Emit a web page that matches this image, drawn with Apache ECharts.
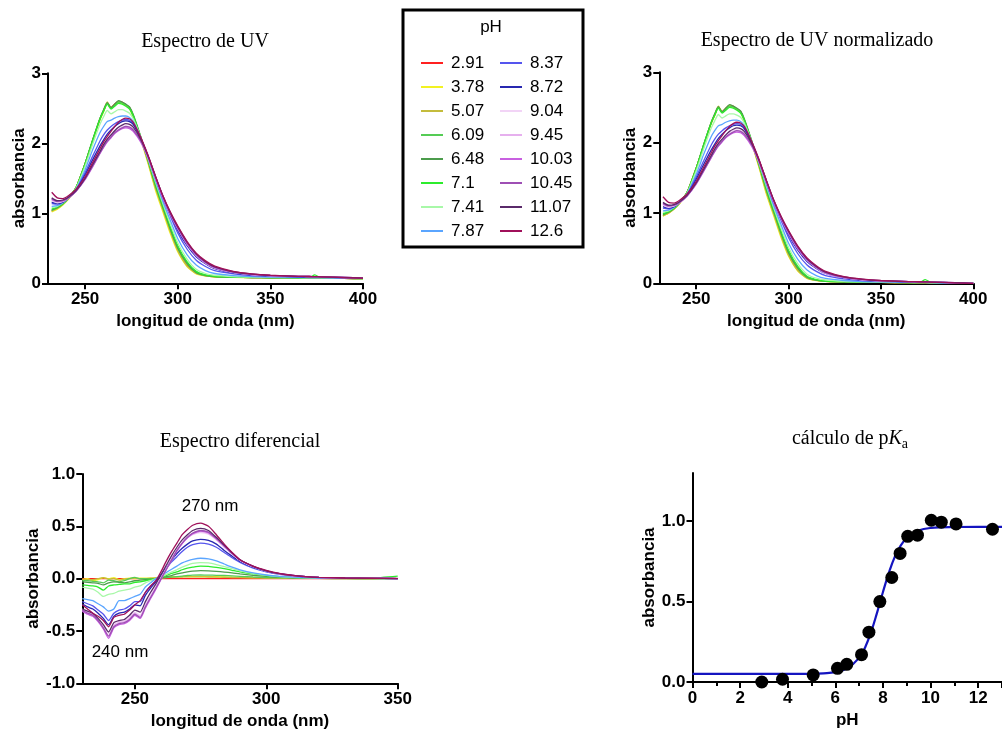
<!DOCTYPE html>
<html>
<head>
<meta charset="utf-8">
<script src="https://cdn.jsdelivr.net/npm/echarts@6/dist/echarts.min.js"></script>
<style>
html,body{margin:0;padding:0;background:#fff}
#c{width:1002px;height:738px}
</style>
</head>
<body>
<div id="c"></div>
<script>
// Wavelength grids (nm)
const wlUV = [232, 235, 238, 241, 245, 250, 254, 258, 260, 262, 264, 266, 268, 270, 272, 274, 276, 280, 284, 288, 292, 296, 300, 305, 310, 315, 320, 330, 340, 350, 365, 371, 374, 377, 390, 400];
const wlDiff = [230, 232, 234, 236, 238, 240, 242, 244, 246, 248, 250, 252, 254, 256, 258, 260, 262, 264, 266, 268, 270, 272, 275, 278, 281, 284, 287, 290, 295, 300, 305, 310, 315, 320, 330, 340, 350];

// pH of each measured solution and its line colour
const phNames = ['2.91', '3.78', '5.07', '6.09', '6.48', '7.1', '7.41', '7.87', '8.37', '8.72', '9.04', '9.45', '10.03', '10.45', '11.07', '12.6'];
const phColors = ['#ff2020', '#f2f222', '#c4bc3c', '#55cc55', '#4c9c4c', '#2cec2c', '#a8f8a8', '#5aa5ff', '#5555ee', '#2828b0', '#f2d4f6', '#e6b0ee', '#c860e0', '#9e4fb4', '#5a2a6a', '#a0105a'];

// UV spectra (absorbance on wlUV)
const uv_291 = [1.03, 1.07, 1.13, 1.21, 1.36, 1.71, 2.03, 2.34, 2.46, 2.57, 2.51, 2.56, 2.60, 2.59, 2.55, 2.51, 2.39, 2.08, 1.74, 1.37, 1.06, 0.75, 0.48, 0.26, 0.15, 0.11, 0.094, 0.086, 0.081, 0.079, 0.076, 0.075, 0.075, 0.074, 0.07, 0.066];
const uv_378 = [1.02, 1.06, 1.12, 1.20, 1.35, 1.70, 2.02, 2.33, 2.45, 2.58, 2.50, 2.55, 2.59, 2.57, 2.54, 2.50, 2.37, 2.06, 1.71, 1.33, 1.02, 0.71, 0.45, 0.24, 0.135, 0.105, 0.092, 0.085, 0.080, 0.078, 0.075, 0.074, 0.074, 0.073, 0.069, 0.065];
const uv_507 = [1.03, 1.07, 1.13, 1.21, 1.36, 1.71, 2.03, 2.35, 2.47, 2.59, 2.51, 2.55, 2.59, 2.58, 2.55, 2.51, 2.38, 2.07, 1.73, 1.36, 1.05, 0.74, 0.47, 0.25, 0.14, 0.107, 0.093, 0.086, 0.081, 0.079, 0.076, 0.075, 0.075, 0.074, 0.07, 0.066];
const uv_609 = [1.04, 1.08, 1.13, 1.21, 1.36, 1.71, 2.04, 2.35, 2.47, 2.57, 2.50, 2.55, 2.59, 2.58, 2.55, 2.51, 2.40, 2.09, 1.75, 1.39, 1.08, 0.77, 0.50, 0.28, 0.15, 0.11, 0.095, 0.087, 0.082, 0.079, 0.076, 0.075, 0.078, 0.075, 0.07, 0.066];
const uv_648 = [1.05, 1.08, 1.14, 1.22, 1.36, 1.71, 2.04, 2.35, 2.48, 2.58, 2.51, 2.56, 2.61, 2.59, 2.56, 2.52, 2.41, 2.10, 1.76, 1.40, 1.09, 0.78, 0.51, 0.29, 0.155, 0.112, 0.097, 0.088, 0.083, 0.080, 0.077, 0.076, 0.076, 0.075, 0.071, 0.066];
const uv_710 = [1.06, 1.09, 1.14, 1.22, 1.36, 1.70, 2.03, 2.34, 2.46, 2.56, 2.49, 2.53, 2.57, 2.56, 2.53, 2.49, 2.39, 2.09, 1.77, 1.42, 1.11, 0.81, 0.54, 0.31, 0.17, 0.12, 0.10, 0.09, 0.085, 0.082, 0.078, 0.08, 0.12, 0.08, 0.071, 0.067];
const uv_741 = [1.08, 1.10, 1.15, 1.22, 1.35, 1.67, 1.98, 2.27, 2.38, 2.47, 2.42, 2.45, 2.48, 2.48, 2.46, 2.43, 2.35, 2.09, 1.78, 1.45, 1.14, 0.85, 0.58, 0.35, 0.20, 0.14, 0.115, 0.097, 0.088, 0.084, 0.08, 0.079, 0.079, 0.078, 0.073, 0.068];
const uv_787 = [1.10, 1.11, 1.15, 1.22, 1.34, 1.62, 1.90, 2.15, 2.24, 2.31, 2.33, 2.36, 2.38, 2.39, 2.39, 2.37, 2.31, 2.08, 1.79, 1.47, 1.17, 0.90, 0.64, 0.41, 0.26, 0.18, 0.14, 0.11, 0.095, 0.09, 0.085, 0.083, 0.082, 0.081, 0.075, 0.07];
const uv_837 = [1.14, 1.13, 1.16, 1.22, 1.33, 1.58, 1.81, 2.03, 2.12, 2.19, 2.24, 2.28, 2.31, 2.33, 2.34, 2.33, 2.28, 2.08, 1.81, 1.50, 1.21, 0.96, 0.72, 0.49, 0.33, 0.24, 0.18, 0.135, 0.11, 0.10, 0.09, 0.088, 0.087, 0.085, 0.078, 0.072];
const uv_872 = [1.16, 1.14, 1.16, 1.22, 1.32, 1.55, 1.76, 1.96, 2.05, 2.13, 2.19, 2.24, 2.28, 2.31, 2.32, 2.31, 2.27, 2.07, 1.82, 1.52, 1.23, 0.99, 0.76, 0.54, 0.38, 0.28, 0.21, 0.15, 0.12, 0.105, 0.095, 0.092, 0.09, 0.089, 0.08, 0.073];
const uv_904 = [1.18, 1.15, 1.17, 1.22, 1.31, 1.51, 1.70, 1.89, 1.98, 2.06, 2.12, 2.17, 2.21, 2.24, 2.25, 2.24, 2.20, 2.04, 1.81, 1.52, 1.24, 1.00, 0.79, 0.57, 0.40, 0.29, 0.22, 0.155, 0.125, 0.11, 0.10, 0.097, 0.095, 0.093, 0.083, 0.075];
const uv_945 = [1.19, 1.16, 1.17, 1.22, 1.31, 1.49, 1.68, 1.87, 1.96, 2.04, 2.10, 2.15, 2.19, 2.22, 2.23, 2.22, 2.18, 2.03, 1.80, 1.51, 1.23, 1.00, 0.79, 0.57, 0.40, 0.29, 0.22, 0.155, 0.125, 0.11, 0.10, 0.097, 0.095, 0.093, 0.083, 0.075];
const uv_1003 = [1.20, 1.17, 1.18, 1.22, 1.31, 1.48, 1.66, 1.85, 1.94, 2.02, 2.08, 2.14, 2.18, 2.21, 2.22, 2.21, 2.17, 2.02, 1.79, 1.50, 1.22, 0.98, 0.78, 0.56, 0.40, 0.29, 0.22, 0.155, 0.125, 0.11, 0.10, 0.097, 0.095, 0.093, 0.083, 0.075];
const uv_1045 = [1.21, 1.17, 1.18, 1.22, 1.31, 1.49, 1.67, 1.86, 1.95, 2.03, 2.09, 2.15, 2.19, 2.22, 2.24, 2.23, 2.19, 2.04, 1.81, 1.52, 1.24, 1.00, 0.80, 0.58, 0.41, 0.30, 0.23, 0.16, 0.13, 0.112, 0.10, 0.097, 0.095, 0.093, 0.083, 0.075];
const uv_1107 = [1.22, 1.18, 1.19, 1.23, 1.32, 1.50, 1.69, 1.88, 1.98, 2.06, 2.12, 2.18, 2.23, 2.26, 2.28, 2.27, 2.23, 2.06, 1.82, 1.53, 1.25, 1.01, 0.81, 0.59, 0.42, 0.31, 0.235, 0.165, 0.13, 0.113, 0.10, 0.097, 0.095, 0.093, 0.083, 0.075];
const uv_1260 = [1.30, 1.22, 1.21, 1.25, 1.34, 1.52, 1.72, 1.92, 2.02, 2.10, 2.17, 2.24, 2.30, 2.34, 2.36, 2.35, 2.30, 2.09, 1.83, 1.53, 1.25, 1.02, 0.82, 0.60, 0.43, 0.32, 0.245, 0.17, 0.135, 0.115, 0.10, 0.097, 0.095, 0.093, 0.082, 0.075];

// Baseline-corrected spectra (absorbance on wlUV)
const norm_291 = [0.96, 1.00, 1.06, 1.14, 1.29, 1.64, 1.96, 2.27, 2.39, 2.50, 2.44, 2.49, 2.53, 2.52, 2.48, 2.44, 2.32, 2.01, 1.67, 1.30, 0.99, 0.68, 0.41, 0.19, 0.084, 0.044, 0.028, 0.02, 0.015, 0.013, 0.01, 0.009, 0.009, 0.008, 0.004, 0];
const norm_378 = [0.955, 0.995, 1.055, 1.135, 1.285, 1.635, 1.955, 2.265, 2.385, 2.515, 2.435, 2.485, 2.525, 2.505, 2.475, 2.435, 2.305, 1.995, 1.645, 1.265, 0.955, 0.645, 0.385, 0.175, 0.07, 0.04, 0.027, 0.02, 0.015, 0.013, 0.01, 0.009, 0.009, 0.008, 0.004, 0];
const norm_507 = [0.96, 1.00, 1.06, 1.14, 1.29, 1.64, 1.96, 2.28, 2.40, 2.52, 2.44, 2.48, 2.52, 2.51, 2.48, 2.44, 2.31, 2.00, 1.66, 1.29, 0.98, 0.67, 0.40, 0.18, 0.074, 0.041, 0.027, 0.02, 0.015, 0.013, 0.01, 0.009, 0.009, 0.008, 0.004, 0];
const norm_609 = [0.97, 1.01, 1.06, 1.14, 1.29, 1.64, 1.97, 2.28, 2.40, 2.50, 2.43, 2.48, 2.52, 2.51, 2.48, 2.44, 2.33, 2.02, 1.68, 1.32, 1.01, 0.70, 0.43, 0.21, 0.084, 0.044, 0.029, 0.021, 0.016, 0.013, 0.01, 0.009, 0.012, 0.009, 0.004, 0];
const norm_648 = [0.98, 1.01, 1.07, 1.15, 1.29, 1.64, 1.97, 2.28, 2.41, 2.51, 2.44, 2.49, 2.54, 2.52, 2.49, 2.45, 2.34, 2.03, 1.69, 1.33, 1.02, 0.71, 0.44, 0.22, 0.089, 0.046, 0.031, 0.022, 0.017, 0.014, 0.011, 0.01, 0.01, 0.009, 0.005, 0];
const norm_710 = [0.99, 1.02, 1.07, 1.15, 1.29, 1.63, 1.96, 2.27, 2.39, 2.49, 2.42, 2.46, 2.50, 2.49, 2.46, 2.42, 2.32, 2.02, 1.70, 1.35, 1.04, 0.74, 0.47, 0.24, 0.10, 0.053, 0.033, 0.023, 0.018, 0.015, 0.011, 0.013, 0.053, 0.013, 0.004, 0];
const norm_741 = [1.01, 1.03, 1.08, 1.15, 1.28, 1.60, 1.91, 2.20, 2.31, 2.40, 2.35, 2.38, 2.41, 2.41, 2.39, 2.36, 2.28, 2.02, 1.71, 1.38, 1.07, 0.78, 0.51, 0.28, 0.13, 0.072, 0.047, 0.029, 0.02, 0.016, 0.012, 0.011, 0.011, 0.01, 0.005, 0];
const norm_787 = [1.03, 1.04, 1.08, 1.15, 1.27, 1.55, 1.83, 2.08, 2.17, 2.24, 2.26, 2.29, 2.31, 2.32, 2.32, 2.30, 2.24, 2.01, 1.72, 1.40, 1.10, 0.83, 0.57, 0.34, 0.19, 0.11, 0.07, 0.04, 0.025, 0.02, 0.015, 0.013, 0.012, 0.011, 0.005, 0];
const norm_837 = [1.07, 1.06, 1.09, 1.15, 1.26, 1.51, 1.74, 1.96, 2.05, 2.12, 2.17, 2.21, 2.24, 2.26, 2.27, 2.26, 2.21, 2.01, 1.74, 1.43, 1.14, 0.89, 0.65, 0.42, 0.26, 0.17, 0.11, 0.063, 0.038, 0.028, 0.018, 0.016, 0.015, 0.013, 0.006, 0];
const norm_872 = [1.09, 1.07, 1.09, 1.15, 1.25, 1.48, 1.69, 1.89, 1.98, 2.06, 2.12, 2.17, 2.21, 2.24, 2.25, 2.24, 2.20, 2.00, 1.75, 1.45, 1.16, 0.92, 0.69, 0.47, 0.31, 0.21, 0.14, 0.077, 0.047, 0.032, 0.022, 0.019, 0.017, 0.016, 0.007, 0];
const norm_904 = [1.11, 1.08, 1.10, 1.15, 1.24, 1.44, 1.63, 1.82, 1.91, 1.99, 2.05, 2.10, 2.14, 2.17, 2.18, 2.17, 2.13, 1.97, 1.74, 1.45, 1.17, 0.93, 0.72, 0.50, 0.33, 0.22, 0.145, 0.08, 0.05, 0.035, 0.025, 0.022, 0.02, 0.018, 0.008, 0];
const norm_945 = [1.12, 1.09, 1.10, 1.15, 1.24, 1.42, 1.61, 1.80, 1.89, 1.97, 2.03, 2.08, 2.12, 2.15, 2.16, 2.15, 2.11, 1.96, 1.73, 1.44, 1.16, 0.93, 0.72, 0.50, 0.33, 0.22, 0.145, 0.08, 0.05, 0.035, 0.025, 0.022, 0.02, 0.018, 0.008, 0];
const norm_1003 = [1.13, 1.10, 1.11, 1.15, 1.24, 1.41, 1.59, 1.78, 1.87, 1.95, 2.01, 2.07, 2.11, 2.14, 2.15, 2.14, 2.10, 1.95, 1.72, 1.43, 1.15, 0.91, 0.71, 0.49, 0.33, 0.22, 0.145, 0.08, 0.05, 0.035, 0.025, 0.022, 0.02, 0.018, 0.008, 0];
const norm_1045 = [1.14, 1.10, 1.11, 1.15, 1.24, 1.42, 1.60, 1.79, 1.88, 1.96, 2.02, 2.08, 2.12, 2.15, 2.17, 2.16, 2.12, 1.97, 1.74, 1.45, 1.17, 0.93, 0.73, 0.51, 0.34, 0.23, 0.155, 0.085, 0.055, 0.037, 0.025, 0.022, 0.02, 0.018, 0.008, 0];
const norm_1107 = [1.15, 1.11, 1.12, 1.16, 1.25, 1.43, 1.62, 1.81, 1.91, 1.99, 2.05, 2.11, 2.16, 2.19, 2.21, 2.20, 2.16, 1.99, 1.75, 1.46, 1.18, 0.94, 0.74, 0.52, 0.35, 0.24, 0.16, 0.09, 0.055, 0.038, 0.025, 0.022, 0.02, 0.018, 0.008, 0];
const norm_1260 = [1.23, 1.15, 1.14, 1.18, 1.27, 1.45, 1.65, 1.85, 1.95, 2.03, 2.10, 2.17, 2.23, 2.27, 2.29, 2.28, 2.23, 2.02, 1.76, 1.46, 1.18, 0.95, 0.75, 0.53, 0.36, 0.25, 0.17, 0.095, 0.06, 0.04, 0.025, 0.022, 0.02, 0.018, 0.007, 0];

// Difference spectra (absorbance on wlDiff)
const diff_291 = [0, 0, 0, 0, 0, 0, 0, 0, 0, 0, 0, 0, 0, 0, 0, 0, 0, 0, 0, 0, 0, 0, 0, 0, 0, 0, 0, 0, 0, 0, 0, 0, 0, 0, 0, 0, 0];
const diff_378 = [-0.01, 0.0, -0.02, -0.01, 0.01, 0.0, 0.01, -0.01, 0.0, 0.005, 0.0, 0.005, 0.005, 0.005, 0.01, 0.012, 0.015, 0.017, 0.018, 0.02, 0.02, 0.02, 0.02, 0.02, 0.018, 0.016, 0.014, 0.012, 0.01, 0.008, 0.006, 0.005, 0.004, 0.003, 0.002, 0.001, 0.0];
const diff_507 = [-0.005, -0.01, -0.01, 0.0, 0.01, -0.005, 0.0, -0.015, -0.005, 0.0, 0.005, 0.0, 0.0, 0.005, 0.008, 0.01, 0.012, 0.014, 0.015, 0.016, 0.017, 0.017, 0.017, 0.016, 0.015, 0.013, 0.011, 0.01, 0.008, 0.006, 0.005, 0.004, 0.003, 0.002, 0.001, 0.001, 0.0];
const diff_609 = [-0.02, -0.02, -0.025, -0.03, -0.04, -0.015, -0.02, -0.03, -0.02, 0.0, 0.012, 0.0, 0.0, -0.005, 0.0, 0.005, 0.01, 0.015, 0.02, 0.025, 0.03, 0.033, 0.035, 0.034, 0.032, 0.03, 0.026, 0.022, 0.016, 0.011, 0.008, 0.005, 0.003, 0.002, 0.001, 0.002, 0.0];
const diff_648 = [-0.03, -0.035, -0.04, -0.045, -0.06, -0.04, -0.03, -0.035, -0.04, -0.03, -0.02, -0.015, -0.01, -0.005, 0.0, 0.01, 0.02, 0.03, 0.045, 0.055, 0.065, 0.072, 0.077, 0.075, 0.07, 0.063, 0.055, 0.045, 0.032, 0.022, 0.015, 0.01, 0.006, 0.004, 0.002, 0.001, 0.0];
const diff_710 = [-0.06, -0.065, -0.07, -0.08, -0.11, -0.07, -0.06, -0.055, -0.05, -0.05, -0.035, -0.03, -0.02, -0.01, 0.0, 0.015, 0.03, 0.05, 0.065, 0.085, 0.10, 0.11, 0.12, 0.118, 0.108, 0.095, 0.08, 0.065, 0.045, 0.03, 0.02, 0.013, 0.008, 0.005, 0.004, 0.006, 0.025];
const diff_741 = [-0.08, -0.09, -0.10, -0.13, -0.17, -0.15, -0.14, -0.12, -0.11, -0.10, -0.08, -0.07, -0.04, -0.02, 0.0, 0.02, 0.04, 0.065, 0.085, 0.11, 0.13, 0.145, 0.153, 0.15, 0.135, 0.115, 0.095, 0.075, 0.05, 0.032, 0.02, 0.012, 0.008, 0.005, 0.003, 0.002, 0.001];
const diff_787 = [-0.19, -0.20, -0.21, -0.24, -0.27, -0.31, -0.29, -0.21, -0.21, -0.19, -0.17, -0.15, -0.08, -0.04, 0.0, 0.03, 0.06, 0.09, 0.12, 0.15, 0.17, 0.185, 0.195, 0.19, 0.17, 0.14, 0.11, 0.085, 0.055, 0.035, 0.022, 0.014, 0.009, 0.006, 0.003, 0.002, 0.001];
const diff_837 = [-0.22, -0.24, -0.26, -0.30, -0.34, -0.40, -0.33, -0.30, -0.29, -0.26, -0.22, -0.22, -0.13, -0.07, -0.02, 0.04, 0.10, 0.16, 0.21, 0.26, 0.30, 0.325, 0.34, 0.33, 0.30, 0.25, 0.20, 0.155, 0.10, 0.065, 0.042, 0.027, 0.017, 0.011, 0.005, 0.003, 0.001];
const diff_872 = [-0.24, -0.27, -0.29, -0.33, -0.38, -0.44, -0.36, -0.33, -0.32, -0.29, -0.25, -0.26, -0.16, -0.09, -0.03, 0.04, 0.11, 0.18, 0.24, 0.29, 0.33, 0.36, 0.375, 0.365, 0.33, 0.27, 0.215, 0.165, 0.11, 0.07, 0.045, 0.029, 0.018, 0.012, 0.005, 0.003, 0.001];
const diff_904 = [-0.29, -0.32, -0.34, -0.39, -0.46, -0.53, -0.44, -0.41, -0.40, -0.37, -0.32, -0.35, -0.25, -0.16, -0.08, 0.01, 0.10, 0.19, 0.27, 0.34, 0.39, 0.42, 0.44, 0.425, 0.37, 0.30, 0.235, 0.175, 0.115, 0.072, 0.046, 0.03, 0.019, 0.012, 0.005, 0.003, 0.001];
const diff_945 = [-0.30, -0.33, -0.35, -0.40, -0.47, -0.55, -0.45, -0.42, -0.41, -0.38, -0.33, -0.36, -0.26, -0.17, -0.085, 0.005, 0.095, 0.185, 0.27, 0.34, 0.39, 0.425, 0.45, 0.43, 0.375, 0.305, 0.235, 0.175, 0.115, 0.072, 0.046, 0.03, 0.019, 0.012, 0.005, 0.003, 0.001];
const diff_1003 = [-0.31, -0.34, -0.36, -0.41, -0.48, -0.57, -0.47, -0.44, -0.43, -0.40, -0.35, -0.38, -0.28, -0.19, -0.10, -0.005, 0.09, 0.18, 0.265, 0.335, 0.39, 0.43, 0.455, 0.44, 0.38, 0.31, 0.24, 0.178, 0.117, 0.073, 0.047, 0.03, 0.019, 0.012, 0.005, 0.003, 0.001];
const diff_1045 = [-0.30, -0.33, -0.35, -0.40, -0.47, -0.55, -0.46, -0.43, -0.42, -0.39, -0.34, -0.37, -0.27, -0.18, -0.09, 0.0, 0.09, 0.18, 0.27, 0.34, 0.395, 0.435, 0.46, 0.445, 0.385, 0.315, 0.245, 0.18, 0.118, 0.074, 0.047, 0.03, 0.019, 0.012, 0.005, 0.003, 0.001];
const diff_1107 = [-0.29, -0.31, -0.33, -0.38, -0.44, -0.51, -0.42, -0.40, -0.39, -0.35, -0.30, -0.32, -0.22, -0.13, -0.05, 0.04, 0.13, 0.22, 0.30, 0.37, 0.42, 0.46, 0.48, 0.46, 0.395, 0.32, 0.245, 0.18, 0.118, 0.075, 0.048, 0.031, 0.02, 0.013, 0.006, 0.003, 0.001];
const diff_1260 = [-0.25, -0.29, -0.33, -0.36, -0.40, -0.46, -0.37, -0.35, -0.34, -0.30, -0.25, -0.21, -0.13, -0.07, -0.02, 0.07, 0.17, 0.26, 0.34, 0.42, 0.47, 0.51, 0.53, 0.50, 0.42, 0.33, 0.25, 0.18, 0.12, 0.08, 0.05, 0.032, 0.02, 0.013, 0.006, 0.004, 0.002];

// Titration: measured points and fitted sigmoid
const titrPH = [2.91, 3.78, 5.07, 6.09, 6.48, 7.1, 7.41, 7.87, 8.37, 8.72, 9.04, 9.45, 10.03, 10.45, 11.07, 12.6];
const titrAbs = [0.0, 0.017, 0.044, 0.085, 0.11, 0.17, 0.31, 0.50, 0.65, 0.80, 0.906, 0.913, 1.006, 0.994, 0.983, 0.95];
const fitPH = [0, 2, 4, 5, 5.5, 6, 6.5, 7, 7.25, 7.5, 7.75, 8, 8.25, 8.5, 8.75, 9, 9.5, 10, 11, 12, 13];
const fitAbs = [0.05, 0.05, 0.05, 0.051, 0.054, 0.061, 0.085, 0.15, 0.215, 0.31, 0.43, 0.56, 0.68, 0.78, 0.85, 0.895, 0.942, 0.958, 0.964, 0.965, 0.965];

// Axis tick positions
const wlTicksUV = [250, 300, 350, 400];
const wlTicksDiff = [250, 300, 350];
const absTicksPKa = [0, 0.5, 1.0];

const uvSets = [uv_291, uv_378, uv_507, uv_609, uv_648, uv_710, uv_741, uv_787, uv_837, uv_872, uv_904, uv_945, uv_1003, uv_1045, uv_1107, uv_1260];
const normSets = [norm_291, norm_378, norm_507, norm_609, norm_648, norm_710, norm_741, norm_787, norm_837, norm_872, norm_904, norm_945, norm_1003, norm_1045, norm_1107, norm_1260];
const diffSets = [diff_291, diff_378, diff_507, diff_609, diff_648, diff_710, diff_741, diff_787, diff_837, diff_872, diff_904, diff_945, diff_1003, diff_1045, diff_1107, diff_1260];

const SANS = '"Liberation Sans", Arial, sans-serif';
const SERIF = '"Liberation Serif", "DejaVu Serif", serif';

const tickLabel = { color: '#000', fontSize: 17, fontWeight: 'bold', fontFamily: SANS };
const axisName = { color: '#000', fontSize: 17, fontWeight: 'bold', fontFamily: SANS };
const blackLine = { color: '#000', width: 2 };

function pairs(xs, ys) { return xs.map((x, i) => [x, ys[i]]); }

function xAxisOf(gi, min, max, ticks, name, gap) {
  return {
    type: 'value', gridIndex: gi, min: min, max: max,
    name: name, nameLocation: 'middle', nameGap: gap, nameTextStyle: axisName,
    axisLine: { show: true, onZero: false, lineStyle: blackLine },
    axisTick: { show: true, length: 6, lineStyle: blackLine, customValues: ticks },
    axisLabel: Object.assign({ customValues: ticks, margin: 8 }, tickLabel),
    splitLine: { show: false }
  };
}
function yAxisOf(gi, min, max, interval, name, gap, fmt) {
  return {
    type: 'value', gridIndex: gi, min: min, max: max, interval: interval,
    name: name, nameLocation: 'middle', nameGap: gap, nameTextStyle: axisName,
    axisLine: { show: true, onZero: false, lineStyle: blackLine },
    axisTick: { show: true, length: 6, lineStyle: blackLine },
    axisLabel: Object.assign({ margin: 7, formatter: fmt }, tickLabel),
    splitLine: { show: false }
  };
}

const series = [];
function addSpectra(sets, xs, axis) {
  sets.forEach((ys, i) => {
    series.push({
      type: 'line', name: phNames[i], xAxisIndex: axis, yAxisIndex: axis,
      data: pairs(xs, ys), symbol: 'none', smooth: 0.2,
      color: phColors[i], lineStyle: { width: 1.3, color: phColors[i] },
      emphasis: { disabled: true }, z: 2
    });
  });
}
addSpectra(uvSets, wlUV, 0);
addSpectra(normSets, wlUV, 1);
addSpectra(diffSets, wlDiff, 2);

series.push({
  type: 'line', name: 'ajuste', xAxisIndex: 3, yAxisIndex: 3,
  data: pairs(fitPH, fitAbs), symbol: 'none', smooth: 0.4,
  color: '#1414c0', lineStyle: { width: 2.2, color: '#1414c0' },
  emphasis: { disabled: true }, z: 2
});
series.push({
  type: 'scatter', name: 'medida', xAxisIndex: 3, yAxisIndex: 3,
  data: pairs(titrPH, titrAbs), symbol: 'circle', symbolSize: 13,
  itemStyle: { color: '#000', opacity: 1 }, emphasis: { disabled: true }, z: 3
});

const legendBase = {
  orient: 'vertical', icon: 'rect', itemWidth: 22, itemHeight: 2, itemGap: 4,
  selectedMode: false, top: 48,
  textStyle: { fontSize: 17, color: '#000', fontFamily: SANS, lineHeight: 20, padding: [0, 0, 0, 3] }
};

const fmt1 = v => v.toFixed(1);

const option = {
  animation: false,
  backgroundColor: '#fff',
  grid: [
    { left: 48, top: 73.3, width: 315, height: 210 },
    { left: 659.3, top: 72.3, width: 314, height: 211 },
    { left: 82.3, top: 474, width: 315.4, height: 209.3 },
    { left: 692.5, top: 473, width: 314, height: 209 }
  ],
  xAxis: [
    xAxisOf(0, 230, 400, wlTicksUV, 'longitud de onda (nm)', 30),
    xAxisOf(1, 230, 400, wlTicksUV, 'longitud de onda (nm)', 30),
    xAxisOf(2, 230, 350, wlTicksDiff, 'longitud de onda (nm)', 30),
    {
      type: 'value', gridIndex: 3, min: 0, max: 13, interval: 2,
      name: 'pH', nameLocation: 'middle', nameGap: 30, nameTextStyle: axisName,
      axisLine: { show: true, onZero: false, lineStyle: blackLine },
      axisTick: { show: true, length: 6, lineStyle: blackLine },
      minorTick: { show: true, splitNumber: 2, length: 4, lineStyle: blackLine },
      axisLabel: Object.assign({ margin: 8, showMaxLabel: false }, tickLabel),
      splitLine: { show: false }, minorSplitLine: { show: false }
    }
  ],
  yAxis: [
    yAxisOf(0, 0, 3, 1, 'absorbancia', 20),
    yAxisOf(1, 0, 3, 1, 'absorbancia', 18),
    yAxisOf(2, -1, 1, 0.5, 'absorbancia', 33, fmt1),
    {
      type: 'value', gridIndex: 3, min: 0, max: 1.3,
      name: 'absorbancia', nameLocation: 'middle', nameGap: 31, nameTextStyle: axisName,
      axisLine: { show: true, onZero: false, lineStyle: blackLine },
      axisTick: { show: true, length: 6, lineStyle: blackLine, customValues: absTicksPKa },
      axisLabel: Object.assign({ margin: 7, customValues: absTicksPKa, formatter: fmt1 }, tickLabel),
      splitLine: { show: false }
    }
  ],
  legend: [
    Object.assign({ data: phNames.slice(0, 8), left: 416 }, legendBase),
    Object.assign({ data: phNames.slice(8), left: 495 }, legendBase)
  ],
  graphic: [
    { type: 'rect', shape: { x: 403, y: 10, width: 180, height: 237 },
      style: { fill: 'none', stroke: '#000', lineWidth: 3 }, z: 10 },
    { type: 'text', x: 491, y: 27,
      style: { text: 'pH', font: '17px ' + SANS, fill: '#000', align: 'center', verticalAlign: 'middle' } },
    { type: 'text', x: 205, y: 42,
      style: { text: 'Espectro de UV', font: '20px ' + SERIF, fill: '#000', align: 'center', verticalAlign: 'middle' } },
    { type: 'text', x: 817, y: 41,
      style: { text: 'Espectro de UV normalizado', font: '20px ' + SERIF, fill: '#000', align: 'center', verticalAlign: 'middle' } },
    { type: 'text', x: 240, y: 442,
      style: { text: 'Espectro diferencial', font: '20px ' + SERIF, fill: '#000', align: 'center', verticalAlign: 'middle' } },
    { type: 'text', x: 850, y: 439,
      style: {
        text: '{n|cálculo de p}{k|K}{s|a}', align: 'center', verticalAlign: 'middle',
        rich: {
          n: { font: '20px ' + SERIF, fill: '#000' },
          k: { font: 'italic 20px ' + SERIF, fill: '#000' },
          s: { font: '14px ' + SERIF, fill: '#000', padding: [10, 0, 0, 0] }
        }
      } },
    { type: 'text', x: 210, y: 506,
      style: { text: '270 nm', font: '17px ' + SANS, fill: '#000', align: 'center', verticalAlign: 'middle' } },
    { type: 'text', x: 120, y: 652,
      style: { text: '240 nm', font: '17px ' + SANS, fill: '#000', align: 'center', verticalAlign: 'middle' } }
  ],
  series: series
};

const chart = echarts.init(document.getElementById('c'), null, { renderer: 'canvas' });
chart.setOption(option);
</script>
</body>
</html>
